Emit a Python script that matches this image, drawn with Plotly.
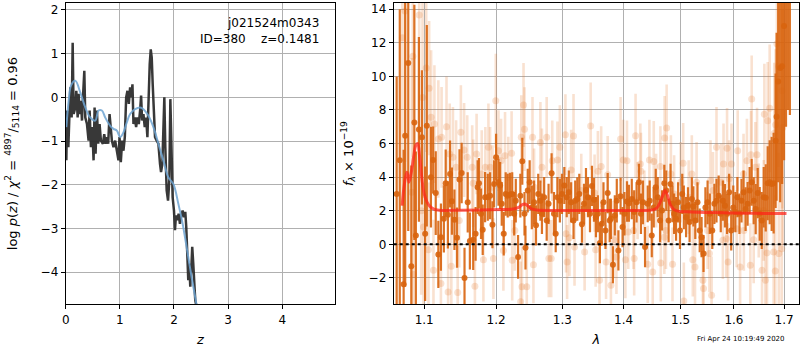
import plotly.graph_objects as go

# ---------------- left panel: p(z) ----------------
z_pz = [0.012, 0.025, 0.049, 0.074, 0.086, 0.110, 0.129, 0.147, 0.178, 0.196, 0.221, 0.239, 0.258, 0.282,
        0.301, 0.319, 0.344, 0.362, 0.393, 0.423, 0.442, 0.466, 0.491, 0.515, 0.534, 0.552, 0.577, 0.601,
        0.626, 0.650, 0.687, 0.712, 0.736, 0.761, 0.785, 0.810, 0.828, 0.853, 0.883, 0.914, 0.945, 0.975,
        0.994, 1.018, 1.043, 1.067, 1.092, 1.117, 1.141, 1.166, 1.190, 1.215, 1.233, 1.252, 1.276, 1.301,
        1.325, 1.350, 1.374, 1.393, 1.411, 1.436, 1.460, 1.485, 1.509, 1.534, 1.552, 1.571, 1.589, 1.607,
        1.626, 1.650, 1.681, 1.712, 1.742, 1.761, 1.785, 1.804, 1.822, 1.840, 1.865, 1.890, 1.914, 1.933,
        1.951, 1.975, 2.000, 2.018, 2.037, 2.061, 2.086, 2.110, 2.135, 2.160, 2.184, 2.209, 2.227, 2.245,
        2.264, 2.282, 2.301, 2.319, 2.337, 2.356, 2.374, 2.393, 2.417, 2.448]
logp_pz = [-1.44, -0.30, -1.14, -0.38, 0.23, -0.46, 1.25, -0.38, -0.23, 0.15, -0.46, 0.08, -0.38, -0.08,
           -0.53, 0.00, 0.61, -0.46, -0.61, -0.99, -0.30, -1.14, -0.68, -1.44, -0.23, -1.29, -0.30, -1.06,
           -0.61, -0.99, -1.06, -0.84, -1.06, -0.91, -1.06, -0.38, -0.68, -0.99, -1.14, -0.99, -1.22, -1.44,
           -0.91, -1.48, -0.99, -1.22, -0.91, 0.00, 0.15, -0.15, 0.23, 0.00, 0.30, -0.61, -0.46, -0.68,
           -0.46, -0.61, -0.30, 0.04, -0.53, -0.38, -0.68, -0.46, -0.91, 0.38, 0.76, 1.10, 0.91, 0.30,
           -0.46, -0.91, -0.99, -1.06, -1.52, -1.71, -1.52, -0.76, 0.00, -1.14, -2.13, -2.36, -1.90, -0.04,
           -1.37, -2.28, -2.59, -3.04, -2.70, -2.81, -2.66, -2.89, -2.70, -2.59, -2.74, -2.62, -2.97, -3.80,
           -4.18, -3.80, -4.33, -3.95, -3.42, -3.80, -4.26, -4.64, -4.79, -4.94]

z_smooth = [0.012, 0.055, 0.098, 0.178, 0.270, 0.362, 0.454, 0.546, 0.607, 0.669, 0.730, 0.822, 0.883,
            0.945, 1.006, 1.067, 1.129, 1.190, 1.282, 1.374, 1.436, 1.528, 1.620, 1.712, 1.804, 1.896,
            1.988, 2.080, 2.160, 2.233, 2.325, 2.417, 2.448]
logp_smooth = [-0.68, -0.08, 0.27, 0.38, 0.11, -0.23, -0.46, -0.53, -0.30, -0.30, -0.46, -0.65, -0.72,
               -0.76, -0.91, -0.80, -0.57, -0.38, -0.27, -0.23, -0.27, -0.42, -0.68, -1.06, -1.44, -1.83,
               -1.98, -2.43, -2.89, -3.42, -4.11, -4.75, -5.02]

# ---------------- right panel: spectrum ----------------
wave_dark = [1.064, 1.068, 1.073, 1.075, 1.079, 1.083, 1.087, 1.089, 1.093, 1.097, 1.1013, 1.1035, 1.109,
             1.112, 1.1155, 1.119, 1.1225, 1.1265, 1.129, 1.132, 1.135, 1.1375, 1.141, 1.1445, 1.148, 1.151,
             1.155, 1.1595, 1.1625,
             1.1672, 1.1706, 1.1735, 1.1754, 1.1783, 1.1807, 1.1841, 1.1880, 1.1913, 1.1947, 1.1971, 1.2000,
             1.2034, 1.2058, 1.2082, 1.2111, 1.2140, 1.2169, 1.2202, 1.2236, 1.2265, 1.2289, 1.2323, 1.2357,
             1.2386, 1.2419, 1.2434, 1.2468, 1.2497, 1.2530, 1.2564, 1.2593, 1.2627, 1.2660, 1.2684, 1.2718,
             1.2757, 1.2786,
             1.2833, 1.2870, 1.2897, 1.2924, 1.2962, 1.2995, 1.3032, 1.3070, 1.3103, 1.3140, 1.3178, 1.3205,
             1.3238, 1.3270, 1.3313, 1.3346, 1.3378, 1.3410, 1.3443, 1.3475, 1.3508, 1.3540, 1.3572, 1.3605,
             1.3637, 1.3664, 1.3697, 1.3734, 1.3767, 1.3788, 1.3821, 1.3853, 1.3886, 1.3913, 1.3950, 1.3983,
             1.4015, 1.4058, 1.4091,
             1.4140, 1.4181, 1.4222, 1.4263, 1.4298, 1.4333, 1.4369, 1.4415, 1.4450, 1.4486, 1.4521, 1.4556,
             1.4591, 1.4632, 1.4667, 1.4708, 1.4743, 1.4784, 1.4819, 1.4854, 1.4883, 1.4918, 1.4954, 1.4989,
             1.5030, 1.5059, 1.5100, 1.5135, 1.5164, 1.5205, 1.5234, 1.5269, 1.5310, 1.5351, 1.5386, 1.5422,
             1.5457, 1.5498,
             1.5540, 1.5586, 1.5626, 1.5666, 1.5707, 1.5747, 1.5787, 1.5827, 1.5867, 1.5907, 1.5947, 1.5987,
             1.6027, 1.6067, 1.6107, 1.6147, 1.6187, 1.6227, 1.6267, 1.6307, 1.6347, 1.6387, 1.6427, 1.6467,
             1.6507, 1.6547, 1.6587, 1.6627, 1.6667, 1.6707, 1.6747, 1.6787, 1.6827, 1.6847, 1.6880, 1.6920,
             1.6960, 1.7000, 1.7040, 1.7080, 1.7120]
flux_dark = [3.0, 5.0, -2.37, 6.47, 10.8, -1.3, 7.26, 0.53, 6.84, 6.37, 0.63, 7.06, 4.0,
             5.02, 3.05, -0.6, 0.43, 1.52, 3.64, 1.76, 4.19, 2.57, 1.46, 0.40, 3.86, 4.25,
             -2.0, 2.5, 0.2,
             0.28, 0.63, 3.4, 3.64, 1.82, 0.87, 2.81, 2.81, 2.9, 1.17, 3.6, 5.18,
             3.7, 3.5, 2.41, 0.63, 3.0, 2.9, 2.97, 3.0, 1.82, 2.6, -0.75, 2.9,
             4.95, 1.82, -0.2, 3.2, 3.7, 2.2, 2.5, 1.13, 3.0, 2.6, 1.82, 2.81,
             1.42, 2.41,
             4.23, 1.82, 0.63, 2.81, 2.6, 3.0, 3.5, 2.81, 3.1, 2.5, 1.42, 2.6,
             2.7, 3.0, 1.19, 2.41, 3.24, 2.81, 1.82, 3.48, 2.65, 1.62, 1.82, 0.08,
             1.23, 2.5, 0.83, 3.05, 1.42, 1.52, -1.21, 1.72, 2.6, -0.36, 2.87, 1.03,
             1.82, 2.55, 2.45,
             2.7, 1.92, 2.5, 3.7, 1.82, 2.5, -0.16, 2.41, 2.6, 0.53, 2.2, 3.4,
             2.81, 1.42, 2.02, 3.64, 3.2, 1.42, 3.6, 2.41, 1.82, 1.52, 2.5, 0.83,
             3.0, 2.2, 1.62, 2.3, 1.33, 2.7, 2.26, 1.42, 2.5, 0.83, 0.43, -0.55,
             2.2, 2.5,
             1.82, 0.83, 2.41, 2.6, 2.9, 1.82, 2.6, 2.3, 1.82, 3.1, 0.83, 2.2,
             1.92, 2.81, 1.82, 2.6, 3.1, 2.1, 2.41, 3.2, 3.7, 2.6, 2.1, 3.05,
             1.82, 1.42, 2.81, 2.77, 3.64, 3.7, 3.6, 3.64, 6.17, 7.6, 9.7, 10.5,
             10.6, 13.0, 16.0, 17.0, 16.0]
err_dark = [7.0, 9.0, 8.0, 9.0, 10.0, 6.0, 7.0, 5.0, 5.5, 4.0, 4.0, 6.0, 3.0,
            2.0, 2.5, 2.0, 2.0, 2.0, 2.0, 2.0, 2.0, 2.0, 1.8, 1.8, 1.8, 1.8,
            1.8, 1.8, 1.7,
            1.8, 1.6, 1.6, 1.5, 1.5, 1.5, 1.5, 1.4, 1.4, 1.4, 1.4, 1.4,
            1.4, 1.4, 1.3, 1.3, 1.3, 1.3, 1.3, 1.3, 1.3, 1.3, 1.3, 1.3,
            1.4, 1.3, 1.3, 1.3, 1.3, 1.3, 1.3, 1.2, 1.2, 1.2, 1.2, 1.2,
            1.2, 1.2,
            1.2, 1.3, 1.1, 1.2, 1.3, 1.2, 1.1, 1.2, 1.3, 1.2, 1.1, 1.2,
            1.3, 1.2, 1.1, 1.2, 1.3, 1.2, 1.1, 1.2, 1.3, 1.2, 1.1, 1.2,
            1.3, 1.2, 1.1, 1.2, 1.3, 1.2, 1.1, 1.2, 1.3, 1.2, 1.1, 1.2,
            1.3, 1.2, 1.1,
            1.2, 1.3, 1.2, 1.1, 1.2, 1.3, 1.2, 1.1, 1.2, 1.3, 1.2, 1.1,
            1.2, 1.3, 1.2, 1.1, 1.2, 1.3, 1.2, 1.1, 1.2, 1.3, 1.2, 1.1,
            1.2, 1.3, 1.2, 1.1, 1.2, 1.3, 1.2, 1.1, 1.2, 1.3, 1.2, 1.1,
            1.2, 1.3,
            1.2, 1.1, 1.2, 1.3, 1.2, 1.1, 1.2, 1.3, 1.2, 1.1, 1.2, 1.3,
            1.2, 1.2, 1.2, 1.3, 1.3, 1.3, 1.3, 1.4, 1.4, 1.4, 1.5, 1.5,
            1.6, 1.7, 1.8, 2.0, 2.2, 2.5, 2.8, 3.0, 4.0, 5.0, 6.0, 8.0,
            7.0, 8.0, 9.0, 9.0, 8.3]

wave_light = [1.0713, 1.0748, 1.0836, 1.0850, 1.0859, 1.0934, 1.0960, 1.0978, 1.0991, 1.1027, 1.1057,
              1.1066, 1.1093, 1.1124, 1.1137, 1.1190, 1.1225, 1.1234, 1.1301, 1.1323, 1.1345, 1.1367,
              1.1389, 1.1433, 1.1455, 1.1477, 1.1499, 1.1544, 1.1588,
              1.1658, 1.1672, 1.1696, 1.1720, 1.1793, 1.1817, 1.1845, 1.1889, 1.1913, 1.1947, 1.1961,
              1.1995, 1.2034, 1.2072, 1.2106, 1.2130, 1.2178, 1.2227, 1.2236, 1.2275, 1.2361, 1.2371,
              1.2381, 1.2405, 1.2419, 1.2453, 1.2540, 1.2554, 1.2564, 1.2660, 1.2684, 1.2757, 1.2790,
              1.2827, 1.2843, 1.2924, 1.2962, 1.3049, 1.3059, 1.3076, 1.3113, 1.3140, 1.3178, 1.3194,
              1.3302, 1.3356, 1.3454, 1.3518, 1.3535, 1.3572, 1.3599, 1.3626, 1.3707, 1.3734, 1.3788,
              1.3832, 1.3880, 1.3950, 1.3994, 1.4031, 1.4058, 1.4080,
              1.4170, 1.4181, 1.4205, 1.4240, 1.4287, 1.4298, 1.4357, 1.4415, 1.4445, 1.4503, 1.4521,
              1.4562, 1.4638, 1.4645, 1.4708, 1.4714, 1.4737, 1.4749, 1.4825, 1.4854, 1.4883, 1.5001,
              1.5047, 1.5059, 1.5147, 1.5205, 1.5223, 1.5264, 1.5293, 1.5410, 1.5422, 1.5498,
              1.5533, 1.5553, 1.5573, 1.5600, 1.5666, 1.5753, 1.5787, 1.5800, 1.5853, 1.5867, 1.5887,
              1.5907, 1.5953, 1.6053, 1.6073, 1.6120, 1.6187, 1.6193, 1.6253, 1.6320, 1.6333, 1.6347,
              1.6387, 1.6420, 1.6453, 1.6487, 1.6553, 1.6587, 1.6600, 1.6620, 1.6653, 1.6667, 1.6707,
              1.6787, 1.6800, 1.6820, 1.6827, 1.6853, 1.6887, 1.6893, 1.6953, 1.6960, 1.6974]
flux_light = [12.3, 13.9, 3.1, 11.2, -1.8, 13.65, 2.0, 8.75, 1.03, 10.5, -0.32,
              9.3, 7.56, -1.54, 7.16, 6.27, -2.33, 6.37, 7.0, -2.83, 5.38, -1.3,
              5.18, 4.59, -2.87, 1.42, 6.67, 5.62, 5.18,
              4.59, 3.64, -2.49, 5.38, 4.19, -0.91, 4.59, 5.78, 4.59, 3.4, -0.85,
              8.55, 5.58, 4.98, -0.36, 5.28, 4.0, 5.42, -0.95, 0.83, -3.42, 6.37,
              -2.53, 8.29, 6.86, -2.53, 6.37, -1.21, 3.4, 6.07, 4.59, 6.37, -0.85,
              -0.85, 4.98, 5.02, 5.78, 6.53, 0.63, -1.05, 0.40, 4.43, 6.45, -0.16,
              3.2, -0.45, 7.04, 3.05, -0.32, 4.35, -2.14, 4.63, -1.05, 4.15, -2.43,
              0.28, -0.75, 6.27, 5.02, -0.91, 4.98, 0.73,
              0.83, -0.85, 6.47, 2.6, 4.79, 4.35, 2.2, -1.19, 5.02, -1.64, 4.94,
              3.2, 4.63, -1.11, 0.43, 6.33, 0.83, 6.92, 4.19, -1.19, 3.0, 3.7,
              4.83, -3.38, 2.81, 4.19, -0.91, -1.35, 3.7, -2.14, -2.63, 0.83,
              -0.55, 3.8, -3.03, 3.2, 5.78, 3.7, 0.24, 4.79, 0.34, 5.72, -1.05,
              3.9, 4.79, 0.93, 5.58, -1.35, 4.19, 0.83, 4.98, -1.25, 5.34, 8.65,
              0.28, 4.59, 5.34, 2.02, -1.54, 2.02, 7.75, -2.14, -0.51, 7.36, 8.1,
              -0.45, 6.61, -1.58, 7.12, 11.95, 10.6, -0.55, -0.26, 9.14, 6.96]
err_light = [10.0, 9.0, 8.0, 6.0, 7.0, 8.0, 5.0, 6.0, 5.0, 5.0, 4.0,
             4.0, 4.0, 3.0, 3.5, 3.5, 3.0, 3.0, 3.0, 3.0, 3.0, 3.0,
             3.0, 2.8, 2.8, 2.8, 2.8, 2.8, 2.5,
             2.5, 2.6, 2.5, 2.4, 2.6, 2.5, 2.4, 2.6, 2.4, 2.5, 2.4,
             2.8, 2.4, 2.5, 2.4, 2.6, 2.4, 2.5, 2.4, 2.4, 2.4, 2.5,
             2.4, 2.5, 2.5, 2.4, 2.4, 2.3, 2.3, 2.4, 2.3, 2.4, 2.3,
             2.3, 2.4, 2.3, 2.5, 2.4, 2.3, 2.2, 2.3, 2.4, 2.5, 2.3,
             2.2, 2.3, 2.6, 2.3, 2.2, 2.4, 2.3, 2.4, 2.2, 2.3, 2.4,
             2.3, 2.2, 2.5, 2.4, 2.3, 2.4, 2.2,
             2.3, 2.2, 2.5, 2.3, 2.4, 2.3, 2.2, 2.3, 2.4, 2.3, 2.4,
             2.2, 2.4, 2.3, 2.2, 2.5, 2.3, 2.6, 2.3, 2.2, 2.3, 2.4,
             2.4, 2.3, 2.2, 2.3, 2.2, 2.3, 2.4, 2.3, 2.4, 2.3,
             2.3, 2.4, 2.3, 2.3, 2.4, 2.3, 2.3, 2.4, 2.3, 2.4, 2.3,
             2.3, 2.4, 2.3, 2.4, 2.4, 2.4, 2.4, 2.5, 2.5, 2.6, 2.6,
             2.6, 2.7, 2.8, 2.8, 3.0, 3.0, 3.0, 3.2, 3.3, 3.5, 3.8,
             4.0, 4.2, 4.5, 4.5, 5.0, 6.0, 6.0, 7.0, 7.0, 7.0]

wave_model = [1.071, 1.074, 1.077, 1.0785, 1.080, 1.083, 1.086, 1.089, 1.0915, 1.094, 1.097, 1.100, 1.104,
              1.108, 1.113, 1.120, 1.150, 1.180, 1.210, 1.225, 1.233, 1.238, 1.242, 1.246, 1.252, 1.260,
              1.300, 1.350, 1.400, 1.440, 1.455, 1.462, 1.468, 1.472, 1.476, 1.481, 1.487, 1.495, 1.520,
              1.550, 1.580, 1.600, 1.630, 1.660, 1.705]
flux_model = [2.3, 3.6, 4.3, 4.1, 3.7, 4.3, 5.2, 5.9, 6.0, 5.2, 3.9, 3.0, 2.5,
              2.25, 2.1, 2.03, 2.03, 2.05, 2.08, 2.1, 2.2, 2.35, 2.4, 2.32, 2.12, 2.05,
              2.02, 2.02, 2.02, 2.02, 2.1, 2.4, 2.9, 3.2, 2.95, 2.4, 2.1, 1.98, 1.93,
              1.9, 1.88, 1.86, 1.85, 1.84, 1.83]

pz_xticks = [0, 1, 2, 3, 4]
pz_yticks = [-4, -3, -2, -1, 0, 1, 2]
wave_ticks = [1.1, 1.2, 1.3, 1.4, 1.5, 1.6, 1.7]
wave_ticktext = ["1.1", "1.2", "1.3", "1.4", "1.5", "1.6", "1.7"]
flux_yticks = [-2, 0, 2, 4, 6, 8, 10, 12, 14]

FONT = "DejaVu Sans"
fig = go.Figure()

fig.add_trace(go.Scatter(x=z_pz, y=logp_pz, mode="lines", xaxis="x", yaxis="y",
                         line=dict(color="rgba(45,45,45,0.95)", width=2.5), showlegend=False))
fig.add_trace(go.Scatter(x=z_smooth, y=logp_smooth, mode="lines", xaxis="x", yaxis="y",
                         line=dict(color="rgba(110,165,210,0.85)", width=2, shape="spline"),
                         showlegend=False))

light_c = "rgba(228,118,40,0.22)"
dark_c = "rgba(216,100,14,0.9)"
fig.add_trace(go.Scatter(x=wave_light, y=flux_light, mode="markers", xaxis="x2", yaxis="y2",
                         marker=dict(color=light_c, size=7, line=dict(width=0)),
                         error_y=dict(type="data", array=err_light, color=light_c, thickness=2.6, width=0),
                         showlegend=False, cliponaxis=True))
fig.add_trace(go.Scatter(x=wave_dark, y=flux_dark, mode="markers", xaxis="x2", yaxis="y2",
                         marker=dict(color=dark_c, size=6, line=dict(width=0)),
                         error_y=dict(type="data", array=err_dark, color=dark_c, thickness=2.2, width=0),
                         showlegend=False, cliponaxis=True))
fig.add_trace(go.Scatter(x=wave_model, y=flux_model, mode="lines", xaxis="x2", yaxis="y2",
                         line=dict(color="rgba(255,35,25,0.72)", width=3, shape="spline"),
                         showlegend=False))

fig.add_shape(type="line", xref="x2 domain", yref="y2", x0=0, x1=1, y0=0, y1=0,
              line=dict(color="black", width=2, dash="dot"))

axis_common = dict(showline=True, linecolor="black", linewidth=1, mirror=True,
                   ticks="outside", ticklen=4, tickcolor="black", showgrid=True,
                   gridcolor="#b0b0b0", gridwidth=1, zeroline=False,
                   tickfont=dict(family=FONT, size=12, color="black"))
ydom = [0.1314, 0.9943]

fig.update_layout(
    width=800, height=350, margin=dict(l=0, r=0, t=0, b=0),
    paper_bgcolor="white", plot_bgcolor="white",
    font=dict(family=FONT, size=12, color="black"),
    xaxis=dict(domain=[0.0775, 0.41625], range=[0, 4.98], tickvals=pz_xticks, anchor="y",
               title=dict(text="<i>z</i>", standoff=9, font=dict(size=13)), **axis_common),
    yaxis=dict(domain=ydom, range=[-4.73, 2.16], tickvals=pz_yticks, anchor="x",
               title=dict(text="log <i>p</i>(<i>z</i>) / <i>χ</i><sup>2</sup> = <sup>4897</sup>/<sub>5114</sub> = 0.96",
                          standoff=20, font=dict(size=13)), **axis_common),
    xaxis2=dict(domain=[0.4896, 0.99875], type="log", range=[0.02539, 0.23830], tickvals=wave_ticks,
                ticktext=wave_ticktext, anchor="y2",
                title=dict(text="<i>λ</i>", standoff=9, font=dict(size=13)), **axis_common),
    yaxis2=dict(domain=ydom, range=[-3.56, 14.37], tickvals=flux_yticks, anchor="x2",
                title=dict(text="<i>f</i><sub><i>λ</i></sub> × 10<sup>−19</sup>", standoff=12,
                           font=dict(size=13)), **axis_common),
)

fig.add_annotation(text="j021524m0343<br>ID=380\u00a0\u00a0\u00a0\u00a0z=0.1481", xref="x domain", yref="y domain",
                   x=0.948, y=0.965, xanchor="right", yanchor="top", align="right", showarrow=False,
                   font=dict(family=FONT, size=12, color="black"))
fig.add_annotation(text="Fri Apr 24 10:19:49 2020", xref="paper", yref="paper", x=0.984, y=0.031,
                   xanchor="right", yanchor="middle", showarrow=False,
                   font=dict(family=FONT, size=7, color="black"))

fig.write_html("out.html")
